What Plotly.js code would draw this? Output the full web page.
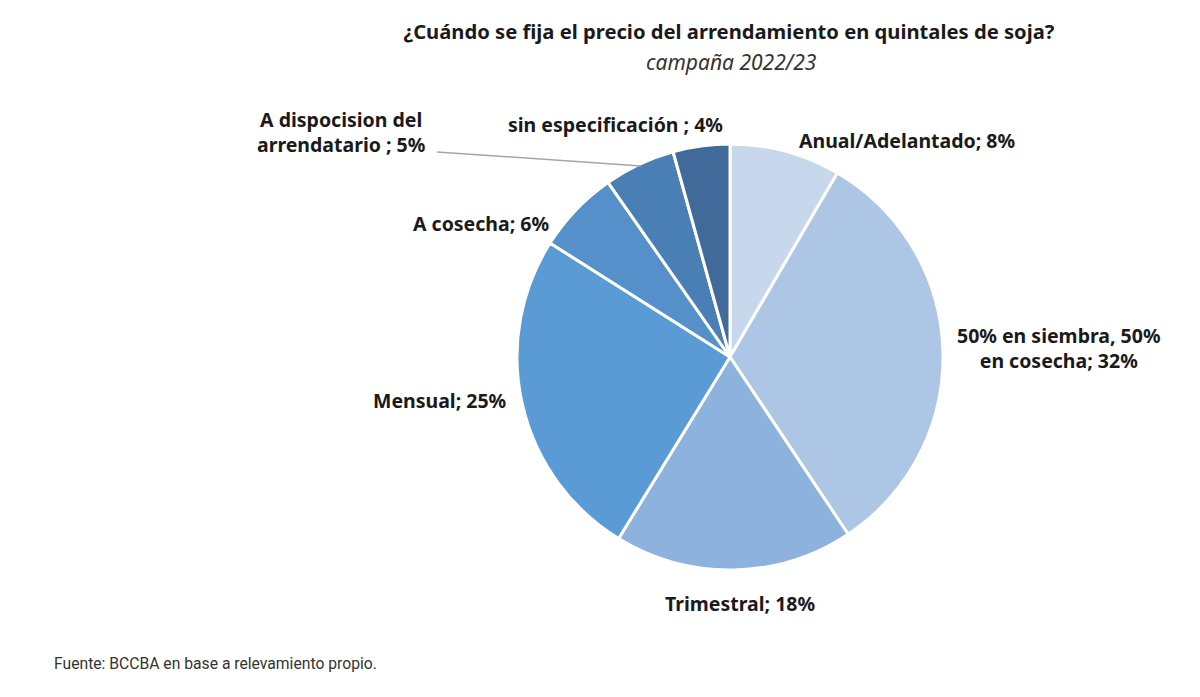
<!DOCTYPE html>
<html>
<head>
<meta charset="utf-8">
<script src="https://cdn.plot.ly/plotly-3.0.1.min.js"></script>
<style>
  html, body { margin: 0; padding: 0; background: #ffffff; }
  #chart { width: 1200px; height: 697px; }
</style>
</head>
<body>
<div id="chart"></div>
<script>
// Data (clockwise from 12 o'clock)
const categories = [
  "Anual/Adelantado",
  "50% en siembra, 50% en cosecha",
  "Trimestral",
  "Mensual",
  "A cosecha",
  "A dispocision del arrendatario",
  "sin especificación"
];
const values = [8.4, 32.2, 18.1, 25.2, 6.3, 5.4, 4.3];
const labelTexts = [
  "Anual/Adelantado",
  "50% en siembra, 50%<br>en cosecha",
  "Trimestral",
  "Mensual",
  "A cosecha",
  "A dispocision del<br>arrendatario ",
  "sin especificación "
];
const colors = ["#c7d8ed", "#adc6e6", "#8eb2de", "#5b9bd5", "#5590cb", "#4a7fb6", "#41699a"];

const W = 1200, H = 697;
const px = x => x / W;
const py = y => 1 - y / H;

// label positions (pixel) for each slice
const labelPos = [
  {x: 907, y: 140},
  {x: 1058, y: 348},
  {x: 740, y: 603},
  {x: 440, y: 400},
  {x: 481, y: 224},
  {x: 341, y: 132},
  {x: 615, y: 124}
];

const total = values.reduce((a, b) => a + b, 0);
const font = "'Noto Sans', 'Open Sans', sans-serif";
const annotations = categories.map((c, i) => ({
  xref: "paper", yref: "paper",
  x: px(labelPos[i].x), y: py(labelPos[i].y),
  xanchor: "center", yanchor: "middle",
  text: "<b>" + labelTexts[i] + "; " + Math.round(values[i] / total * 100) + "%</b>",
  showarrow: false,
  align: "center",
  font: {family: font, size: 19.5, color: "#1a1a1a"}
}));

annotations.push({
  xref: "paper", yref: "paper",
  x: px(731), y: py(62), xanchor: "center", yanchor: "middle",
  text: "<i>campaña 2022/23</i>", showarrow: false,
  font: {family: font, size: 21, color: "#333333"}
});
annotations.push({
  xref: "paper", yref: "paper",
  x: px(52), y: py(663), xanchor: "left", yanchor: "middle",
  text: "Fuente: BCCBA en base a relevamiento propio.", showarrow: false,
  font: {family: "Roboto, sans-serif", size: 15.7, color: "#333333"}
});

const cx = 730, cy = 357, r = 213;
const trace = {
  type: "pie",
  labels: categories,
  values: values,
  sort: false,
  direction: "clockwise",
  rotation: 0,
  textinfo: "none",
  hoverinfo: "label+percent",
  marker: {colors: colors, line: {color: "#ffffff", width: 3}},
  domain: {x: [px(cx - r), px(cx + r)], y: [py(cy + r), py(cy - r)]},
  showlegend: false
};

const layout = {
  width: W, height: H,
  margin: {l: 0, r: 0, t: 0, b: 0},
  paper_bgcolor: "#ffffff",
  plot_bgcolor: "#ffffff",
  showlegend: false,
  title: {
    text: "<b>¿Cuándo se fija el precio del arrendamiento en quintales de soja?</b>",
    x: px(729), xanchor: "center", y: py(32), yanchor: "middle",
    font: {family: font, size: 20.2, color: "#1a1a1a"}
  },
  annotations: annotations,
  shapes: [{
    type: "line", xref: "paper", yref: "paper",
    x0: px(437), y0: py(152), x1: px(641), y1: py(166),
    line: {color: "#a6a6a6", width: 1.5}
  }]
};

Plotly.newPlot("chart", [trace], layout, {displayModeBar: false});
</script>
</body>
</html>
